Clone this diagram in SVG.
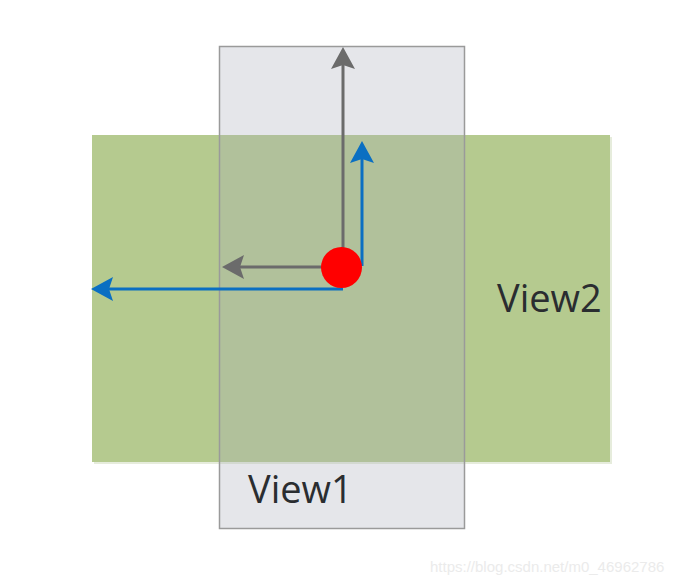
<svg xmlns="http://www.w3.org/2000/svg" width="686" height="584" viewBox="0 0 686 584">
  <style>
    .lbl { font-family: "Open Sans", "Liberation Sans", sans-serif; font-size: 38px; fill: #2a2d30; }
    .gray { stroke: #6b6b6b; stroke-width: 3; fill: none; }
    .blue { stroke: #0a6fc2; stroke-width: 3; fill: none; }
  </style>
  <defs>
    <marker id="ag" viewBox="0 0 22 24" refX="12" refY="12" markerWidth="22" markerHeight="24" markerUnits="userSpaceOnUse" orient="auto">
      <path d="M0,0 L22,12 L0,24 L4,12 Z" fill="#6b6b6b"/>
    </marker>
    <marker id="ab" viewBox="0 0 22 24" refX="12" refY="12" markerWidth="22" markerHeight="24" markerUnits="userSpaceOnUse" orient="auto">
      <path d="M0,0 L22,12 L0,24 L4,12 Z" fill="#0a6fc2"/>
    </marker>
  </defs>
  <rect width="686" height="584" fill="#ffffff"/>
  <g id="view2">
    <rect x="92" y="135" width="518" height="327" fill="#b5ca8f"/>
    <rect x="610" y="137" width="2" height="327" fill="#e6ecdc"/>
    <rect x="94" y="462" width="518" height="2" fill="#e6ecdc"/>
    <text class="lbl" x="497" y="312">View2</text>
  </g>
  <g id="view1">
    <rect x="219.5" y="46.5" width="245" height="482" fill="#a8acb9" fill-opacity="0.3" stroke="#9a9a9a" stroke-width="1.5"/>
    <text class="lbl" x="248" y="503">View1</text>
  </g>
  <g id="connectors">
    <line class="gray" x1="343" y1="248" x2="343" y2="57" marker-end="url(#ag)"/>
    <line class="gray" x1="322" y1="267" x2="232" y2="267" marker-end="url(#ag)"/>
    <line class="blue" x1="362" y1="266" x2="362" y2="151" marker-end="url(#ab)"/>
    <line class="blue" x1="343" y1="289" x2="101" y2="289" marker-end="url(#ab)"/>
  </g>
  <g id="origin">
    <circle cx="341.5" cy="267.5" r="20.5" fill="#ff0000"/>
  </g>
  <text x="430" y="572" font-family="Liberation Sans, Arial, sans-serif" font-size="15" fill="#ebebeb">https://blog.csdn.net/m0_46962786</text>
</svg>
